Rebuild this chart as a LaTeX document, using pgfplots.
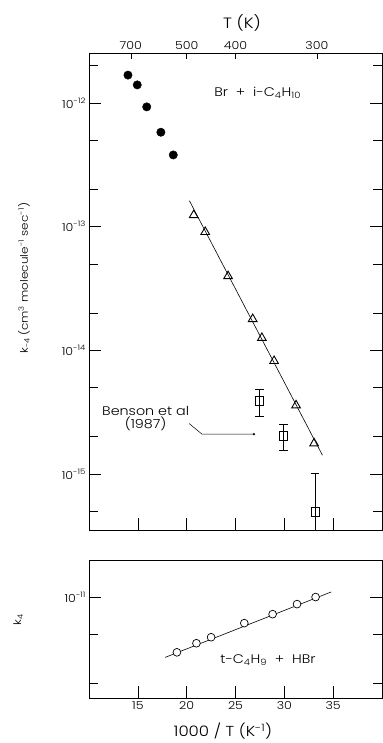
\documentclass[border=0pt]{standalone}
\usepackage{pgfplots}
\pgfplotsset{compat=1.18}
\usepackage{fontspec}
\setmainfont{Poppins}[UprightFont={* Light}, FakeStretch=1.15]
\usetikzlibrary{arrows.meta}
\newcommand{\tp}[1]{10\raisebox{0.85ex}{\fontsize{7.5}{8}\selectfont #1}}
\begin{document}
\begin{tikzpicture}
\path[use as bounding box] (-89bp,-45bp) rectangle (294bp,698bp);
% ---------------- upper panel ----------------
\begin{axis}[scale only axis, width=293bp, height=477bp, xmin=10, xmax=40, ymode=log,
  at={(0,168bp)}, anchor=south west,
  tick align=inside,
  axis line style={line width=0.6bp},
  tick style={black, line width=0.6bp},
  major tick length=12bp, minor tick length=9bp,
  tick label style={font=\fontsize{11}{12}\selectfont},
  ymin=3.524e-16, ymax=2.535e-12,
  xtick={15,20,25,30,35}, xticklabels={}, xtick pos=left,
  ytick={1e-15,1e-14,1e-13,1e-12},
  yticklabels={\tp{-15},\tp{-14},\tp{-13},\tp{-12}},
  minor ytick={5e-16,2e-15,5e-15,2e-14,5e-14,2e-13,5e-13,2e-12},
  ylabel={k\textsubscript{-4}\,(cm\textsuperscript{3} molecule\textsuperscript{-1} sec\textsuperscript{-1})},
  ylabel style={at={(axis description cs:-0.222,0.528)}, anchor=center, font=\fontsize{10.5}{11}\selectfont},
]
% filled circles
\addplot[only marks, mark=*, mark size=4.2bp, black] coordinates {
 (13.99,1.68e-12) (14.94,1.40e-12) (15.91,9.3e-13) (17.36,5.8e-13) (18.63,3.8e-13)};
% fit line
\addplot[black, line width=0.6bp] coordinates {(20.28,1.62e-13) (33.9,1.42e-15)};
% triangles
\addplot[only marks, mark=triangle, mark size=5bp, black, line width=0.9bp] coordinates {
 (20.72,1.24e-13) (21.9,9.06e-14) (24.24,3.98e-14) (26.76,1.79e-14)
 (27.7,1.26e-14) (28.95,8.2e-15) (31.2,3.59e-15) (33.05,1.77e-15)};
% squares with error bars
\addplot[only marks, mark=square, mark size=4.2bp, black, line width=0.7bp,
  error bars/.cd, y dir=both, y explicit]
 coordinates {
 (27.45,3.9e-15) += (0,0.94e-15) -= (0,0.97e-15)
 (29.9,2.03e-15) += (0,0.52e-15) -= (0,0.48e-15)
 (33.15,4.95e-16) += (0,5.25e-16) -= (0,2.95e-16)};
% leader line to Benson et al
\addplot[black, line width=0.5bp, -{Circle[length=2.2bp]}] coordinates {
 (20.25,2.56e-15) (21.57,2.1e-15) (27.0,2.1e-15)};
\node[font=\fontsize{12.5}{13}\selectfont, align=center, inner sep=0pt] at (axis cs:15.8,2.82e-15)
  {Benson et al\\(1987)};
\node[font=\fontsize{12.5}{14}\selectfont, inner sep=0pt] at (axis cs:27.27,1.2e-12)
  {Br\ \ +\ \ i-C\textsubscript{4}H\textsubscript{10}};
\end{axis}
% top temperature axis
\begin{axis}[scale only axis, width=293bp, height=477bp, xmin=10, xmax=40, ymode=log,
  at={(0,168bp)}, anchor=south west,
  ymin=3.524e-16, ymax=2.535e-12,
  axis x line*=top, axis y line=none,
  tick align=inside,
  axis line style={line width=0.6bp},
  tick style={black, line width=0.6bp},
  major tick length=6bp,
  tick label style={font=\fontsize{11}{12}\selectfont},
  xtick={14.2857,20,25,33.3333}, xticklabels={700,500,400,300},
  xlabel={T (K)},
  xlabel style={at={(axis description cs:0.522,1.063)}, anchor=center, font=\fontsize{15}{16}\selectfont},
]
\addplot[draw=none] coordinates {(20,1e-13)};
\end{axis}
% ---------------- lower panel ----------------
\begin{axis}[scale only axis, width=293bp, height=138bp, xmin=10, xmax=40, ymode=log,
  at={(0,0)}, anchor=south west,
  tick align=inside,
  axis line style={line width=0.6bp},
  tick style={black, line width=0.6bp},
  major tick length=12bp, minor tick length=9bp,
  tick label style={font=\fontsize{11}{12}\selectfont},
  ymin=1.524e-12, ymax=1.995e-11,
  xtick={15,20,25,30,35}, xticklabels={15,20,25,30,35}, xtick pos=left,
  ytick={1e-11}, yticklabels={\tp{-11}},
  minor ytick={2e-12,5e-12},
  xlabel={1000 / T (K\textsuperscript{-1})},
  xlabel style={at={(axis description cs:0.457,-0.243)}, anchor=center, font=\fontsize{14.5}{15}\selectfont},
  ylabel={k\textsubscript{4}},
  ylabel style={at={(axis description cs:-0.242,0.565)}, anchor=center, font=\fontsize{10.5}{11}\selectfont},
]
\addplot[black, line width=0.6bp] coordinates {(17.8,3.25e-12) (34.8,1.1e-11)};
\addplot[only marks, mark=*, mark size=3.9bp, draw=black, fill=white, line width=0.7bp] coordinates {
 (19.0,3.57e-12) (21.0,4.23e-12) (22.5,4.73e-12) (25.9,6.15e-12)
 (28.8,7.27e-12) (31.3,8.77e-12) (33.2,1.0e-11)};
\node[font=\fontsize{12.5}{14}\selectfont, inner sep=0pt] at (axis cs:28.33,3.1e-12)
  {t-C\textsubscript{4}H\textsubscript{9}\ \ +\ \ HBr};
\end{axis}
\end{tikzpicture}
\end{document}
